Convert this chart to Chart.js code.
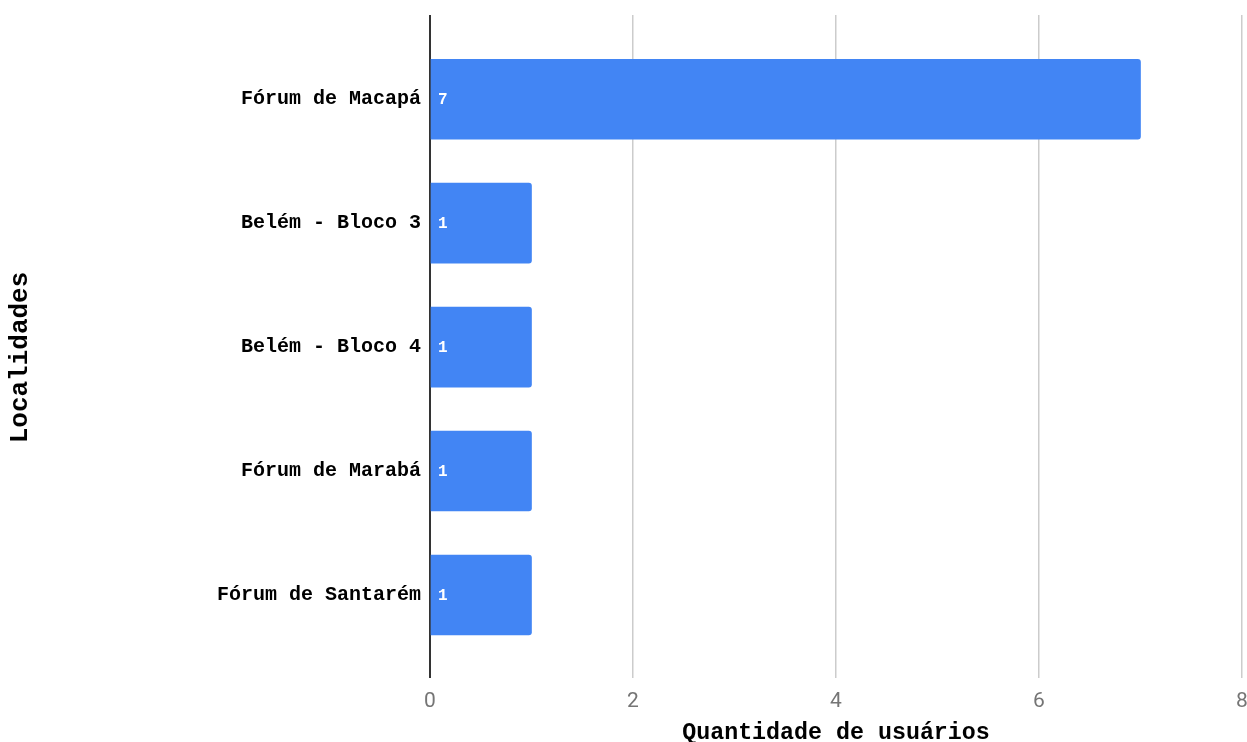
<!DOCTYPE html>
<html>
<head>
<meta charset="utf-8">
<script src="https://cdn.jsdelivr.net/npm/chart.js@4/dist/chart.umd.min.js"></script>
<style>
  html, body { margin: 0; padding: 0; background: #fff; }
  #wrap { width: 1247px; height: 742px; position: relative; }
</style>
</head>
<body>
<div id="wrap"><canvas id="c" width="1247" height="742"></canvas></div>
<script>
const categories = ["Fórum de Macapá", "Belém - Bloco 3", "Belém - Bloco 4", "Fórum de Marabá", "Fórum de Santarém"];
const userCounts = [7, 1, 1, 1, 1];
const xTicks = [0, 2, 4, 6, 8];
const xTitle = "Quantidade de usuários";
const yTitle = "Localidades";

const MONO = '"Courier New", "Liberation Mono", monospace';

const valueLabels = {
  id: 'valueLabels',
  afterDatasetsDraw(chart) {
    const ctx = chart.ctx;
    const meta = chart.getDatasetMeta(0);
    ctx.save();
    ctx.font = 'bold 16px ' + MONO;
    ctx.fillStyle = '#ffffff';
    ctx.textAlign = 'left';
    ctx.textBaseline = 'middle';
    meta.data.forEach((bar, i) => {
      ctx.fillText(String(userCounts[i]), bar.base + 7, bar.y + 1);
    });
    ctx.restore();
  }
};

const yAxisTitle = {
  id: 'yAxisTitle',
  afterDraw(chart) {
    const ctx = chart.ctx;
    const area = chart.chartArea;
    ctx.save();
    ctx.translate(20, (area.top + area.bottom) / 2 + 11);
    ctx.rotate(-Math.PI / 2);
    ctx.font = 'bold 26px ' + MONO;
    ctx.fillStyle = '#000';
    ctx.textAlign = 'center';
    ctx.textBaseline = 'middle';
    ctx.fillText(yTitle, 0, 0);
    ctx.restore();
  }
};

function zeroPad(s) {
  s.paddingLeft = 0; s.paddingRight = 0; s.paddingTop = 0; s.paddingBottom = 0;
}

new Chart(document.getElementById('c'), {
  type: 'bar',
  data: {
    datasets: [{
      data: userCounts.map((v, i) => ({ x: v, y: i })),
      backgroundColor: '#4285F4',
      borderWidth: 0,
      borderRadius: 3,
      barThickness: 80
    }]
  },
  plugins: [valueLabels, yAxisTitle],
  options: {
    indexAxis: 'y',
    responsive: false,
    animation: false,
    layout: { padding: { top: 15, right: 5, left: 0, bottom: 0 } },
    plugins: { legend: { display: false }, tooltip: { enabled: false } },
    scales: {
      x: {
        type: 'linear',
        min: 0,
        max: 8,
        afterBuildTicks: (s) => { s.ticks = xTicks.map(v => ({ value: v })); },
        afterFit: (s) => { s.height = 64; zeroPad(s); },
        border: { display: false },
        grid: {
          drawTicks: false,
          color: (c) => c.tick && c.tick.value === 0 ? '#333333' : '#cccccc',
          lineWidth: (c) => c.tick && c.tick.value === 0 ? 2 : 1.5
        },
        ticks: {
          padding: 11,
          color: '#757575',
          font: { family: 'Roboto', size: 21 }
        },
        title: {
          display: true,
          text: xTitle,
          color: '#000',
          font: { family: MONO, size: 23.3, weight: 'bold', lineHeight: 1 },
          padding: { top: 0, bottom: -3 }
        }
      },
      y: {
        type: 'linear',
        reverse: true,
        offset: false,
        min: -0.68,
        max: 4.67,
        afterBuildTicks: (s) => { s.ticks = categories.map((_, i) => ({ value: i })); },
        afterFit: (s) => { s.width = 430; zeroPad(s); },
        border: { display: false },
        grid: { display: false, drawTicks: false, offset: false },
        ticks: {
          padding: 9,
          color: '#000',
          font: { family: MONO, size: 20, weight: 'bold' },
          callback: (v) => categories[v]
        },
        title: { display: false, text: yTitle }
      }
    }
  }
});
</script>
</body>
</html>
